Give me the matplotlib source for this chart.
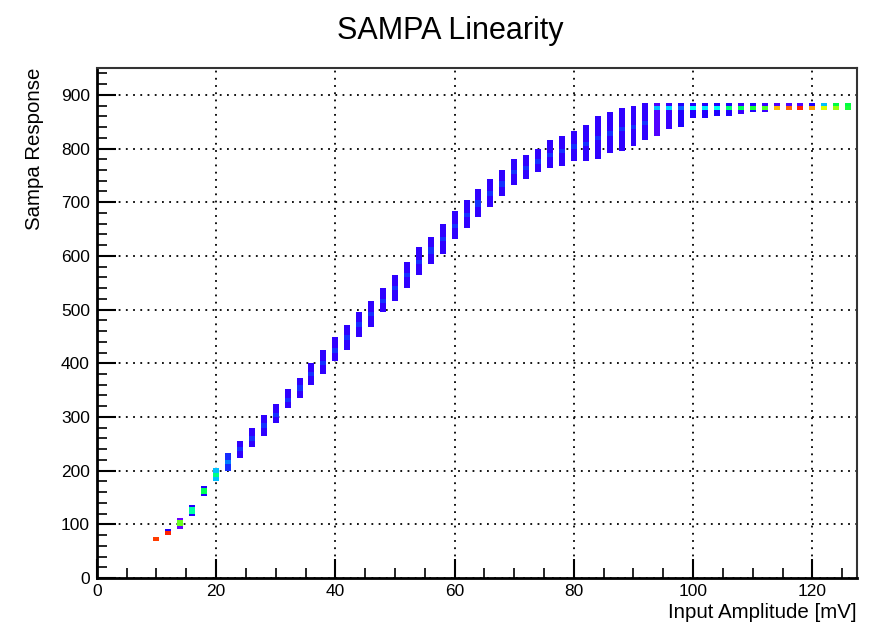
import matplotlib.pyplot as plt
import numpy as np
from matplotlib.colors import LinearSegmentedColormap
from matplotlib.ticker import MultipleLocator

# Input amplitude columns [mV] and the response range seen in each one
amp = list(range(10, 128, 2))
resp_lo = [68, 80, 95, 117, 155, 183, 203, 227, 244, 266, 289, 317, 337, 361, 382,
           406, 427, 451, 471, 497, 516, 542, 565, 587, 607, 632, 652, 673, 693, 712,
           732, 747, 756, 766, 770, 777, 777, 782, 792, 797, 807, 816, 827, 836, 842,
           857, 857, 861, 861, 866, 870, 870, 872, 872, 872, 875, 875, 875, 875]
resp_hi = [75, 88, 110, 134, 170, 200, 229, 252, 276, 302, 322, 348, 371, 397, 421,
           445, 468, 494, 512, 538, 563, 587, 613, 633, 658, 680, 702, 723, 742, 756,
           777, 784, 799, 812, 822, 829, 842, 858, 866, 872, 876, 881, 883, 883, 883,
           883, 883, 883, 883, 883, 883, 883, 883, 883, 883, 883, 883, 883, 883]

# palette level (0 = violet ... 1 = red) of the bulk of each column and of its dense band
body_lvl = [0.9, 0.2, 0.05, 0.2, 0.2, 0.4, 0.25] + [0.17] * 35 + \
           [0.1, 0.15, 0.2, 0.2, 0.2, 0.2, 0.2, 0.15, 0.2, 0.15, 0.1, 0.1, 0.1, 0.2, 0.4, 0.6, 0.6]
peak_lvl = [0.95, 0.97, 0.68, 0.52, 0.58, 0.55, 0.35] + [0.26] * 35 + \
           [0.4, 0.42, 0.32, 0.46, 0.43, 0.46, 0.56, 0.58, 0.62, 0.66, 0.86, 0.92, 0.97, 0.88, 0.78, 0.72, 0.62]
peak_resp = [72, 84, 102, 126, 162, 192, 216] + \
            [(a + b) / 2 for a, b in zip(resp_lo[7:42], resp_hi[7:42])] + [877] * 17

# ROOT style rainbow palette
cmap = LinearSegmentedColormap.from_list("root_rainbow", [
    (0.0, "#8000ff"), (0.2, "#2000ff"), (0.35, "#0080ff"), (0.45, "#00ffff"),
    (0.6, "#00ff40"), (0.75, "#c0ff00"), (0.82, "#ffff00"), (0.9, "#ff8000"),
    (1.0, "#ff0000")])

x_edges = np.arange(0, 129, 1) - 0.5
y_edges = np.arange(0, 956, 4)
grid = np.full((len(y_edges) - 1, len(x_edges) - 1), np.nan)
for a, lo, hi, bl, pl, pr in zip(amp, resp_lo, resp_hi, body_lvl, peak_lvl, peak_resp):
    for j in range(int(lo // 4), int(hi // 4) + 1):
        yc = j * 4 + 2
        grid[j, a] = pl if abs(yc - pr) <= 4 else bl

plt.rcParams["font.family"] = ["Liberation Sans", "DejaVu Sans"]
fig = plt.figure(figsize=(8.8, 6.25), dpi=100)
ax = fig.add_axes([0.110, 0.0752, 0.864, 0.816])

ax.pcolormesh(x_edges, y_edges, grid, cmap=cmap, vmin=0, vmax=1, zorder=2)

ax.set_xlim(0, 127.5)
ax.set_ylim(0, 950)
ax.xaxis.set_major_locator(MultipleLocator(20))
ax.xaxis.set_minor_locator(MultipleLocator(5))
ax.yaxis.set_major_locator(MultipleLocator(100))
ax.yaxis.set_minor_locator(MultipleLocator(20))
ax.tick_params(which="both", direction="in", top=False, right=False, labelsize=12.5)
ax.tick_params(which="major", length=14, width=1.5)
ax.tick_params(which="minor", length=7, width=1.2)
ax.tick_params(axis="x", pad=4)
ax.tick_params(axis="y", pad=5)
ax.grid(True, which="major", color="black", linestyle=(0, (1, 3)), linewidth=1.3, zorder=1)
ax.set_axisbelow(True)

for side in ["left", "bottom"]:
    ax.spines[side].set_linewidth(2)
for side in ["top", "right"]:
    ax.spines[side].set_linewidth(1.5)
    ax.spines[side].set_color("#333333")

fig.text(0.512, 0.951, "SAMPA Linearity", ha="center", va="center", fontsize=22)
fig.text(0.974, 0.02, "Input Amplitude [mV]", ha="right", va="center", fontsize=14.8)
fig.text(0.039, 0.891, "Sampa Response", ha="center", va="top", rotation=90, fontsize=14.7)

plt.savefig("out.png", dpi=100)
